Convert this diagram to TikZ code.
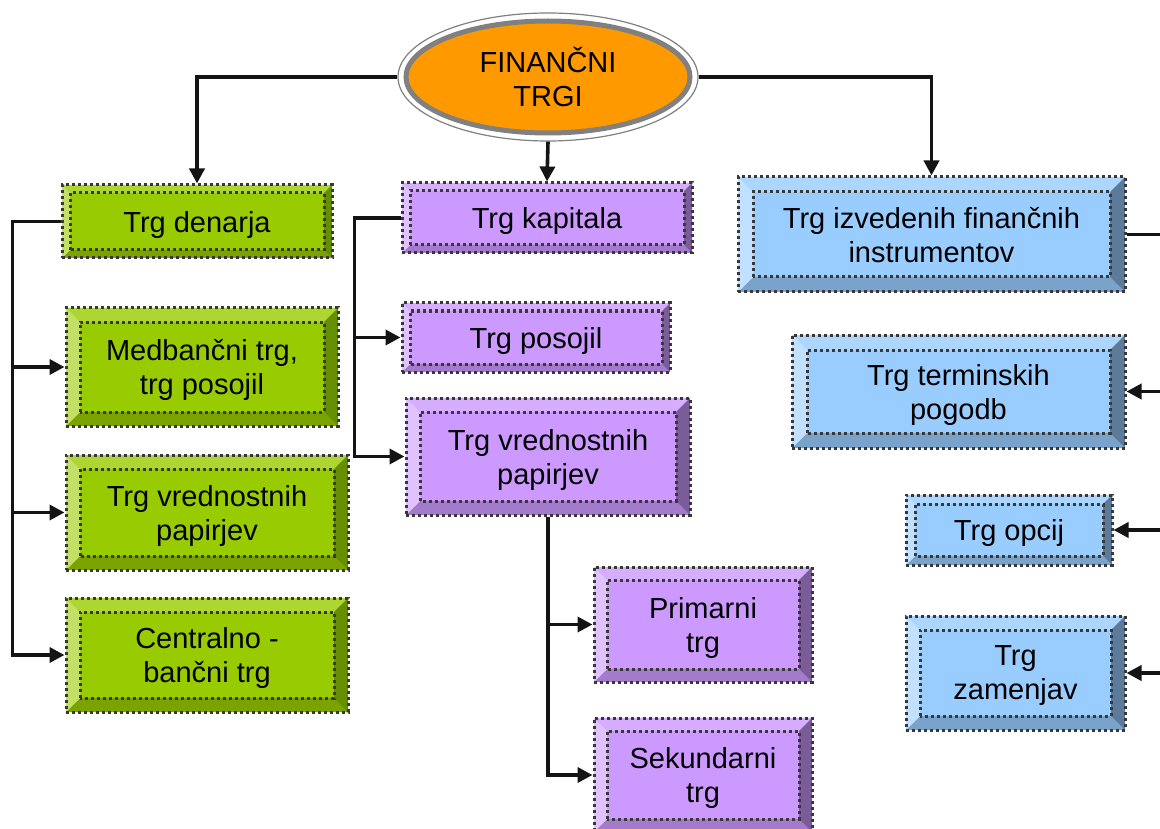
\documentclass[tikz,border=0pt]{standalone}
\usepackage{fontspec}
\setmainfont{Liberation Sans}
\usetikzlibrary{arrows.meta,shapes.geometric,calc}
\definecolor{gM}{HTML}{99CC00}
\definecolor{gL}{HTML}{C2E066}
\definecolor{gT}{HTML}{ADD633}
\definecolor{gR}{HTML}{668F00}
\definecolor{gB}{HTML}{7AA300}
\definecolor{pM}{HTML}{CC99FF}
\definecolor{pL}{HTML}{E0C2FF}
\definecolor{pT}{HTML}{D6ADFF}
\definecolor{pR}{HTML}{7A5C99}
\definecolor{pB}{HTML}{A37ACC}
\definecolor{bM}{HTML}{99CCFF}
\definecolor{bL}{HTML}{C2E0FF}
\definecolor{bT}{HTML}{ADD6FF}
\definecolor{bR}{HTML}{5C7A99}
\definecolor{bB}{HTML}{7AA3CC}
\definecolor{dotc}{HTML}{383838}
\definecolor{orangeF}{HTML}{FF9900}
\definecolor{ringc}{HTML}{808080}
\definecolor{linec}{HTML}{141414}
\tikzset{
  bev/.store in=\bev, bev=10,
  cM/.store in=\cM, cL/.store in=\cL, cT/.store in=\cT, cR/.store in=\cR, cB/.store in=\cB,
  cM=gM, cL=gL, cT=gT, cR=gR, cB=gB,
  dots/.style={draw=dotc, line width=3pt, line cap=butt, dash pattern=on 2.6pt off 3.4pt},
  txt/.style={font=\fontsize{29}{34}\selectfont},
  bevelbox/.style={rectangle, align=center, txt, inner sep=0pt, text depth=0pt, dots, fill=\cM,
    path picture={
      \path (path picture bounding box.south west) coordinate (@sw)
            (path picture bounding box.north east) coordinate (@ne);
      \path ([shift={(\bev pt,\bev pt)}]@sw) coordinate (@isw)
            ([shift={(-\bev pt,-\bev pt)}]@ne) coordinate (@ine);
      \fill[\cM] (@sw) rectangle (@ne);
      \fill[\cT] (@sw|-@ne) -- (@ne) -- (@ine) -- (@isw|-@ine) -- cycle;
      \fill[\cB] (@sw) -- (@ne|-@sw) -- (@ine|-@isw) -- (@isw) -- cycle;
      \fill[\cL] (@sw) -- (@sw|-@ne) -- (@isw|-@ine) -- (@isw) -- cycle;
      \fill[\cR] (@ne|-@sw) -- (@ne) -- (@ine) -- (@ine|-@isw) -- cycle;
      \draw[dots] (@isw) rectangle (@ine);
    }},
  greenbox/.style={cM=gM, cL=gL, cT=gT, cR=gR, cB=gB, bevelbox},
  purplebox/.style={cM=pM, cL=pL, cT=pT, cR=pR, cB=pB, bevelbox},
  bluebox/.style={cM=bM, cL=bL, cT=bT, cR=bR, cB=bB, bevelbox},
  conn/.style={draw=linec, line width=3.6pt, -{Triangle[length=15pt,width=15pt]}},
  trunk/.style={draw=linec, line width=3.6pt},
}
\begin{document}
\begin{tikzpicture}[x=1pt,y=-1pt]
\useasboundingbox (0,0) rectangle (1160,829);
% central ellipse
\node[ellipse, minimum width=300pt, minimum height=128pt, draw=ringc, line width=1.2pt, fill=white] (fino) at (548,77) {};
\node[ellipse, minimum width=284pt, minimum height=112pt, fill=orangeF, draw=ringc, line width=5pt, align=center, txt] (fin) at (548,77) {FINANČNI\\TRGI};
% green column
\node[greenbox, bev=8, minimum width=270pt, minimum height=73pt] (den) at (197,221.5) {Trg denarja};
\node[greenbox, bev=14, minimum width=272pt, minimum height=118pt] (med) at (202,367) {Medbančni trg,\\trg posojil};
\node[greenbox, bev=14, minimum width=282pt, minimum height=115pt] (gvp) at (207,512.5) {Trg vrednostnih\\papirjev};
\node[greenbox, bev=14, minimum width=282pt, minimum height=114pt] (cen) at (207,655) {Centralno -\\bančni trg};
% purple column
\node[purplebox, bev=8, minimum width=290pt, minimum height=70pt] (kap) at (547,218) {Trg kapitala};
\node[purplebox, bev=8, minimum width=268pt, minimum height=69pt] (pos) at (536,337.5) {Trg posojil};
\node[purplebox, bev=14, minimum width=284pt, minimum height=117pt] (pvp) at (548,456.5) {Trg vrednostnih\\papirjev};
\node[purplebox, bev=13, minimum width=218pt, minimum height=115pt] (pri) at (703,624.5) {Primarni\\trg};
\node[purplebox, bev=13, minimum width=218pt, minimum height=114pt] (sek) at (703,775) {Sekundarni\\trg};
% blue column
\node[bluebox, bev=15, minimum width=387pt, minimum height=115pt] (izv) at (931.5,234.5) {Trg izvedenih finančnih\\instrumentov};
\node[bluebox, bev=15, minimum width=333pt, minimum height=113pt] (ter) at (958.5,391.5) {Trg terminskih\\pogodb};
\node[bluebox, bev=9, minimum width=206pt, minimum height=70pt] (opc) at (1009,530) {Trg opcij};
\node[bluebox, bev=14, minimum width=219pt, minimum height=114pt] (zam) at (1015.5,673) {Trg\\zamenjav};
% connectors from the ellipse
\draw[conn] (fino.west) -| (den.north);
\draw[conn] (fino.south) -- (kap.north);
\draw[conn] (fino.east) -| (izv.north);
% green tree
\draw[conn] (den.west) -- ++(-48,0) |- (med.west);
\draw[conn] (den.west) -- ++(-48,0) |- (gvp.west);
\draw[conn] (den.west) -- ++(-48,0) |- (cen.west);
% purple tree
\draw[conn] (kap.west) -- ++(-46,0) |- (pos.west);
\draw[conn] (kap.west) -- ++(-46,0) |- (pvp.west);
\draw[conn] (pvp.south) |- (pri.west);
\draw[conn] (pvp.south) |- (sek.west);
% blue tree
\coordinate (bbus) at (1178,234.5);
\draw[trunk] (izv.east) -- (bbus);
\draw[conn] (bbus) |- (ter.east);
\draw[conn] (bbus) |- (opc.east);
\draw[conn] (bbus) |- (zam.east);
\end{tikzpicture}
\end{document}
